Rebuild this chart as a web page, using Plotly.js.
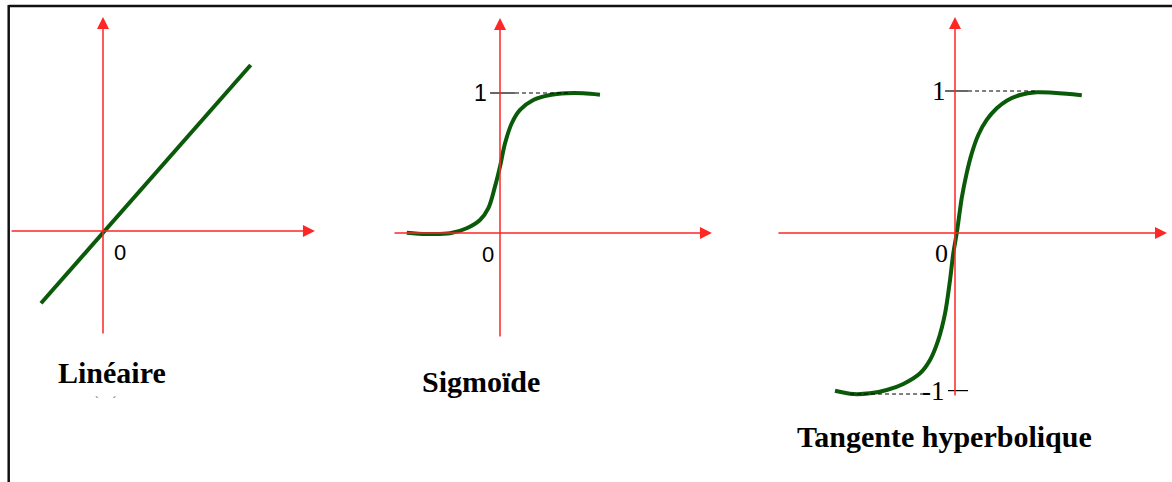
<!DOCTYPE html>
<html>
<head>
<meta charset="utf-8">
<script src="https://cdn.plot.ly/plotly-3.0.1.min.js"></script>
<style>
  html, body { margin: 0; padding: 0; background: #fff; }
  #graph { width: 1172px; height: 482px; }
</style>
</head>
<body>
<div id="graph"></div>
<script>
// curves (x, y in units of each panel)
const linX = [-0.443, 1.055];
const linY = [-0.516, 1.186];

const sigX = [-0.666, -0.524, -0.357, -0.238, -0.143, -0.084, -0.036, 0, 0.036, 0.084, 0.143, 0.238, 0.357, 0.476, 0.595, 0.714];
const sigY = [0.002, -0.007, -0.002, 0.034, 0.093, 0.176, 0.331, 0.474, 0.641, 0.784, 0.879, 0.95, 0.986, 0.998, 0.998, 0.988];

const tanhX = [-0.845, -0.716, -0.599, -0.481, -0.364, -0.246, -0.176, -0.118, -0.070, -0.035, -0.012, 0.012, 0.035, 0.047, 0.082, 0.118, 0.164, 0.223, 0.294, 0.364, 0.458, 0.575, 0.692, 0.787, 0.893];
const tanhY = [-1.111, -1.134, -1.129, -1.106, -1.063, -0.988, -0.894, -0.754, -0.566, -0.331, -0.143, -0.002, 0.162, 0.244, 0.420, 0.561, 0.690, 0.796, 0.878, 0.932, 0.972, 0.991, 0.988, 0.981, 0.970];

const titles = ['Linéaire', 'Sigmoïde', 'Tangente hyperbolique'];
const sigTicks = [1];
const sigTickText = ['1'];
const tanhTicks = [1, -1.11];
const tanhTickText = ['1', '-1'];

const W = 1172, H = 482;
const RED = '#ff2626';
const GREEN = '#0a5a0a';

// where each panel's origin sits on the page, and pixels per unit
const panels = [
  { ox: 103, oy: 231, u: 140 },
  { ox: 500, oy: 233, u: 140 },
  { ox: 955, oy: 233, u: 142 }
];

function axisPair(p) {
  return [
    { domain: [0, 1], range: [-p.ox / p.u, (W - p.ox) / p.u], visible: false, fixedrange: true },
    { domain: [0, 1], range: [(p.oy - H) / p.u, p.oy / p.u], visible: false, fixedrange: true }
  ];
}

const layout = {
  width: W, height: H,
  margin: { l: 0, r: 0, t: 0, b: 0 },
  paper_bgcolor: '#fff',
  plot_bgcolor: 'rgba(0,0,0,0)',
  showlegend: false,
  shapes: [],
  annotations: []
};

const names = [['xaxis', 'yaxis', 'x', 'y'], ['xaxis2', 'yaxis2', 'x2', 'y2'], ['xaxis3', 'yaxis3', 'x3', 'y3']];
panels.forEach((p, i) => {
  const ax = axisPair(p);
  ax[0].anchor = names[i][3];
  ax[1].anchor = names[i][2];
  layout[names[i][0]] = ax[0];
  layout[names[i][1]] = ax[1];
});

// red axes with arrow heads: [xref, yref, hFrom, hTo, vFrom, vTo]
const axesLines = [
  ['x', 'y', -0.664, 1.514, -0.743, 1.529],
  ['x2', 'y2', -0.764, 1.514, -0.750, 1.536],
  ['x3', 'y3', -1.254, 1.493, -1.155, 1.521]
];
axesLines.forEach(a => {
  layout.annotations.push({
    xref: a[0], yref: a[1], axref: a[0], ayref: a[1],
    x: a[3], y: 0, ax: a[2], ay: 0, text: '', showarrow: true,
    arrowhead: 2, arrowsize: 1.6, arrowwidth: 1.5, arrowcolor: RED, standoff: 0
  });
  layout.annotations.push({
    xref: a[0], yref: a[1], axref: a[0], ayref: a[1],
    x: 0, y: a[5], ax: 0, ay: a[4], text: '', showarrow: true,
    arrowhead: 2, arrowsize: 1.6, arrowwidth: 1.5, arrowcolor: RED, standoff: 0
  });
});

// tick marks and dashed guides
function hline(xr, yr, x0, x1, y, dash, w) {
  layout.shapes.push({ type: 'line', xref: xr, yref: yr, x0: x0, x1: x1, y0: y, y1: y,
    line: { color: '#000', width: w, dash: dash } });
}
hline('x2', 'y2', -0.071, 0.107, sigTicks[0], 'solid', 1.2);
hline('x2', 'y2', 0.107, 0.50, sigTicks[0], '4px,3px', 1);
hline('x3', 'y3', -0.070, 0.092, tanhTicks[0], 'solid', 1.2);
hline('x3', 'y3', 0.092, 0.563, tanhTicks[0], '4px,3px', 1);
hline('x3', 'y3', -0.050, 0.092, tanhTicks[1], 'solid', 1.2);
hline('x3', 'y3', -0.739, -0.190, tanhTicks[1] - 0.024, '4px,3px', 1);

// number labels
const sans = 'Liberation Sans, Arial, sans-serif';
const serif = 'Liberation Serif, Times New Roman, serif';
function label(xr, yr, x, y, t, fam, size) {
  layout.annotations.push({ xref: xr, yref: yr, x: x, y: y, text: t, showarrow: false,
    xanchor: 'center', yanchor: 'middle', font: { family: fam, size: size, color: '#000' } });
}
label('x', 'y', 0.121, -0.15, '0', sans, 22);
label('x2', 'y2', -0.086, -0.155, '0', sans, 22);
label('x2', 'y2', -0.139, sigTicks[0], sigTickText[0], sans, 23);
label('x3', 'y3', -0.092, -0.141, '0', serif, 26);
label('x3', 'y3', -0.113, tanhTicks[0], tanhTickText[0], serif, 27);
label('x3', 'y3', -0.150, tanhTicks[1], tanhTickText[1], serif, 27);

// panel titles, in page pixels
const titlePos = [[112, 372], [481, 381], [944, 436]];
titles.forEach((t, i) => {
  layout.annotations.push({ xref: 'paper', yref: 'paper',
    x: titlePos[i][0] / W, y: 1 - titlePos[i][1] / H, text: '<b>' + t + '</b>', showarrow: false,
    xanchor: 'center', yanchor: 'middle', font: { family: serif, size: 30, color: '#000' } });
});
// stray accent marks under the first title
layout.annotations.push({ xref: 'paper', yref: 'paper', x: 105 / W, y: 1 - 400 / H,
  text: '`&nbsp;&nbsp;&nbsp;&nbsp;&nbsp;´', showarrow: false, xanchor: 'center', yanchor: 'middle',
  font: { family: serif, size: 11, color: '#333' } });

// black frame: top and left edges
layout.shapes.push({ type: 'line', xref: 'paper', yref: 'paper', x0: 8.7 / W, x1: 1, y0: 1 - 6 / H, y1: 1 - 6 / H,
  line: { color: '#111', width: 2.5 } });
layout.shapes.push({ type: 'line', xref: 'paper', yref: 'paper', x0: 8.7 / W, x1: 8.7 / W, y0: 1 - 5 / H, y1: 0,
  line: { color: '#111', width: 2.5 } });

const curve = (x, y, xa, ya) => ({
  x: x, y: y, xaxis: xa, yaxis: ya, type: 'scatter', mode: 'lines',
  line: { color: GREEN, width: 4, shape: 'spline', smoothing: 1 }, hoverinfo: 'skip'
});

const data = [
  curve(linX, linY, 'x', 'y'),
  curve(sigX, sigY, 'x2', 'y2'),
  curve(tanhX, tanhY, 'x3', 'y3')
];

Plotly.newPlot('graph', data, layout, { staticPlot: true });
</script>
</body>
</html>
